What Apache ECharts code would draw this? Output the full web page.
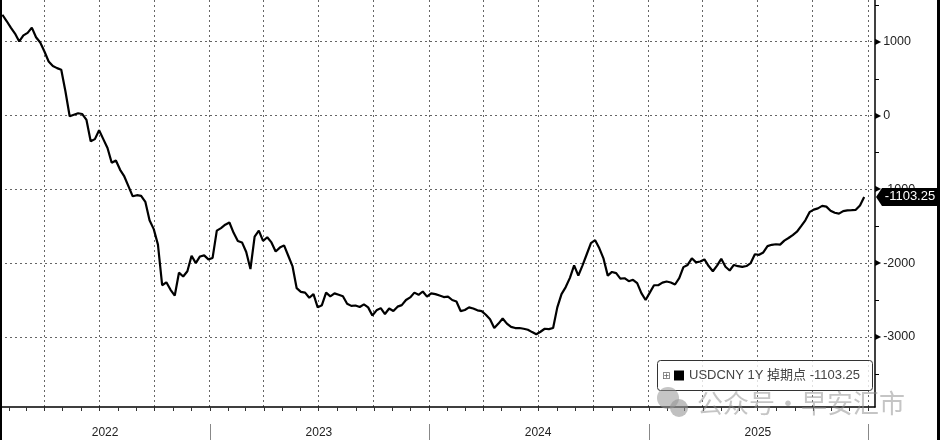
<!DOCTYPE html>
<html>
<head>
<meta charset="utf-8">
<title>USDCNY 1Y 掉期点</title>
<script src="https://cdn.jsdelivr.net/npm/echarts@6/dist/echarts.min.js"></script>
<style>
  html, body { margin: 0; padding: 0; background: #fff; }
  #main { width: 940px; height: 440px; }
</style>
</head>
<body>
<div id="main"></div>
<script>
  //周度数据：第一个点 2022-01-21，之后每 7 天一个点
  const firstDate = '2022-01-21'
  const stepDays = 7
  const seriesName = 'USDCNY 1Y 掉期点'
  const swapPoints = [
    1365, 1280, 1190, 1110, 1003, 1085, 1120, 1190, 1060, 990,
    867, 732, 670, 642, 620, 325, -10, 10, 30, 20,
    -60, -350, -320, -200, -320, -440, -640, -610, -736, -826,
    -960, -1095, -1080, -1090, -1170, -1420, -1540, -1750, -2300, -2260,
    -2362, -2440, -2130, -2182, -2110, -1900, -2000, -1910, -1895, -1950,
    -1930, -1560, -1526, -1480, -1450, -1590, -1700, -1720, -1850, -2080,
    -1640, -1560, -1700, -1650, -1720, -1843, -1790, -1760, -1900, -2040,
    -2340, -2390, -2400, -2470, -2420, -2600, -2570, -2400, -2450, -2410,
    -2430, -2450, -2550, -2580, -2575, -2595, -2560, -2600, -2710, -2640,
    -2610, -2690, -2615, -2650, -2590, -2570, -2500, -2465, -2400, -2430,
    -2385, -2455, -2410, -2420, -2440, -2460, -2455, -2500, -2520, -2650,
    -2635, -2600, -2615, -2640, -2650, -2700, -2760, -2880, -2820, -2750,
    -2820, -2865, -2880, -2880, -2890, -2904, -2935, -2965, -2930, -2890,
    -2895, -2880, -2600, -2420, -2325, -2200, -2030, -2170, -2030, -1880,
    -1730, -1690, -1800, -1940, -2170, -2120, -2136, -2210, -2205, -2245,
    -2226, -2271, -2407, -2500, -2400, -2300, -2300, -2265, -2250, -2263,
    -2290, -2204, -2055, -2025, -1935, -1990, -1978, -1950, -2040, -2110,
    -2035, -1942, -2050, -2100, -2025, -2042, -2052, -2040, -2000, -1880,
    -1888, -1856, -1770, -1752, -1745, -1750, -1695, -1660, -1620, -1575,
    -1500, -1420, -1310, -1275, -1258, -1225, -1235, -1290, -1318, -1330,
    -1295, -1285, -1282, -1278, -1220, -1103.25
  ]
  const yLabelValues = [-3000, -2000, -1000, 0, 1000]
  const yMinorValues = [-3500, -2500, -1500, -500, 500, 1500]
  const yearLabels = ['2022', '2023', '2024', '2025']
  const yearLabelDates = ['2022-07-11', '2023-07-02', '2024-07-01', '2025-07-02']
  const yearStarts = ['2023-01-01', '2024-01-01', '2025-01-01', '2026-01-01']
  const axisStart = '2022-01-17'
  const axisEnd = '2026-01-13'
  const yMin = -3950, yMax = 1565

  const DAY = 86400000
  const tMin = Date.parse(axisStart)
  const tMax = Date.parse(axisEnd)
  const t0 = Date.parse(firstDate)
  const lineData = swapPoints.map((v, i) => [t0 + i * stepDays * DAY, v])
  const lastValue = swapPoints[swapPoints.length - 1]

  //月初刻度和季度网格线
  let monthStarts = [], quarterStarts = []
  for (let y = 2022; y <= 2026; y++) {
    for (let m = 0; m < 12; m++) {
      let t = Date.UTC(y, m, 1)
      if (t <= tMin || t >= tMax) continue
      monthStarts.push(t)
      if (m % 3 === 0) quarterStarts.push(t)
    }
  }
  const yearLabelTs = yearLabelDates.map(d => Date.parse(d))

  const font = '"Liberation Sans", "Noto Sans CJK SC", sans-serif'
  const gridDash = { color: '#666', width: 1, type: [2, 3] }

  const baseGraphics = [
    //左右两侧黑边
    { type: 'rect', shape: { x: 0, y: 0, width: 2, height: 440 }, style: { fill: '#000' }, z: 20 },
    { type: 'rect', shape: { x: 937, y: 0, width: 3, height: 440 }, style: { fill: '#000' }, z: 20 },
    //图例框
    {
      type: 'rect', z: 3,
      shape: { x: 657.5, y: 360.5, width: 215, height: 30, r: 3 },
      style: { fill: 'rgba(255,255,255,0.8)', stroke: '#333', lineWidth: 1 }
    },
    {
      type: 'text', z: 5,
      style: { x: 662, y: 376, text: '⊞', fontSize: 10, fill: '#666', fontFamily: 'DejaVu Sans', verticalAlign: 'middle' }
    },
    //水印
    { type: 'circle', z: 10, shape: { cx: 668, cy: 398, r: 11 }, style: { fill: 'rgba(150,150,150,0.55)' } },
    { type: 'circle', z: 10, shape: { cx: 679, cy: 408, r: 9 }, style: { fill: 'rgba(150,150,150,0.6)' } },
    {
      type: 'text', z: 10,
      style: {
        x: 697, y: 403, text: '公众号・早安汇市', fontSize: 26,
        fill: 'rgba(140,140,140,0.5)', fontFamily: '"Noto Sans CJK SC"', verticalAlign: 'middle'
      }
    }
  ]

  const chart = echarts.init(document.getElementById('main'))
  chart.setOption({
    animation: false,
    textStyle: { fontFamily: font },
    grid: { left: 0, right: 65, top: 0, bottom: 33 },
    legend: {
      left: 674,
      top: 369,
      padding: 0,
      itemWidth: 10,
      itemHeight: 10,
      icon: 'rect',
      data: [seriesName],
      textStyle: { fontSize: 13, color: '#444', fontFamily: font },
      formatter: name => name + ' ' + lastValue.toFixed(2)
    },
    xAxis: [
      {
        type: 'value', min: tMin, max: tMax,
        axisLine: { show: true, onZero: false, lineStyle: { color: '#000', width: 1.5 } },
        axisTick: { show: false },
        axisLabel: { show: false },
        splitLine: { show: false }
      },
      {
        type: 'value', min: tMin, max: tMax,
        axisLine: { show: false },
        axisTick: { show: false, customValues: quarterStarts },
        axisLabel: { show: false },
        splitLine: { show: true, lineStyle: gridDash }
      },
      {
        type: 'value', min: tMin, max: tMax, position: 'bottom', offset: 17,
        axisLine: { show: false },
        axisTick: { show: false },
        axisLabel: {
          show: true, customValues: yearLabelTs, margin: 3,
          fontSize: 12, color: '#222',
          formatter: v => yearLabels[yearLabelTs.indexOf(v)] || ''
        },
        splitLine: { show: false }
      }
    ],
    yAxis: [
      {
        type: 'value', position: 'right', min: yMin, max: yMax,
        axisLine: { show: true, lineStyle: { color: '#000', width: 1.5 } },
        axisTick: { show: false },
        axisLabel: {
          show: true, customValues: yLabelValues, margin: 0,
          formatter: v => '{t|▶}{v|' + v + '}',
          rich: {
            t: { fontSize: 8, color: '#000', fontFamily: 'DejaVu Sans', padding: [0, 2, 0, 0] },
            v: { fontSize: 12.5, color: '#222', fontFamily: font }
          }
        },
        splitLine: { show: false }
      },
      {
        type: 'value', position: 'right', min: yMin, max: yMax,
        axisLine: { show: false },
        axisTick: { show: false, customValues: yLabelValues },
        axisLabel: { show: false },
        splitLine: { show: true, lineStyle: gridDash }
      }
    ],
    series: [
      {
        name: seriesName,
        type: 'line',
        xAxisIndex: 0,
        yAxisIndex: 0,
        data: lineData,
        showSymbol: false,
        color: '#000',
        lineStyle: { color: '#000', width: 2.2 },
        markPoint: {
          silent: true,
          symbol: 'path://M0,9 L6,0 L62,0 L62,18 L6,18 Z',
          symbolSize: [62, 18],
          symbolOffset: [32, 0],
          itemStyle: { color: '#000' },
          label: {
            show: true, position: 'inside', offset: [3, 0],
            color: '#fff', fontSize: 13, fontFamily: font,
            formatter: p => p.value.toFixed(2)
          },
          data: [{ coord: [tMax, lastValue], value: lastValue }]
        }
      }
    ],
    graphic: baseGraphics
  })

  //刻度线用坐标轴换算出的位置画出来
  const px = t => chart.convertToPixel({ xAxisIndex: 0 }, t)
  const py = v => chart.convertToPixel({ yAxisIndex: 0 }, v)
  const axisY = py(yMin), axisX = px(tMax)
  let ticks = []
  monthStarts.forEach(t => {
    let x = Math.round(px(t)) + 0.5
    ticks.push({ type: 'line', z: 6, shape: { x1: x, y1: axisY, x2: x, y2: axisY + 4 }, style: { stroke: '#333', lineWidth: 1 } })
  })
  yearStarts.forEach(d => {
    let x = Math.round(px(Date.parse(d))) + 0.5
    ticks.push({ type: 'line', z: 6, shape: { x1: x, y1: axisY + 17, x2: x, y2: 440 }, style: { stroke: '#888', lineWidth: 1 } })
  })
  yMinorValues.forEach(v => {
    let y = Math.round(py(v)) + 0.5
    ticks.push({ type: 'line', z: 6, shape: { x1: axisX, y1: y, x2: axisX + 4, y2: y }, style: { stroke: '#000', lineWidth: 1 } })
  })
  chart.setOption({ graphic: baseGraphics.concat(ticks) })
</script>
</body>
</html>
